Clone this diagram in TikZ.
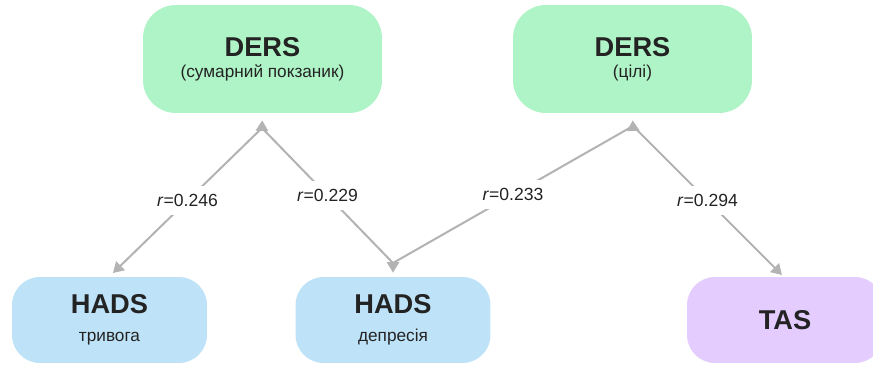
\documentclass[tikz,border=0pt]{standalone}
\usepackage{fontspec}
\setmainfont{Liberation Sans}
\usetikzlibrary{arrows.meta}
\definecolor{dersgreen}{HTML}{AFF4C6}
\definecolor{hadsblue}{HTML}{BEE3F8}
\definecolor{taspurple}{HTML}{E4CCFF}
\definecolor{linkgray}{HTML}{B3B3B3}
\definecolor{inkdark}{HTML}{232323}
\newcommand{\boxtitle}[1]{{\bfseries\fontsize{15.5}{18}\selectfont #1}}
\begin{document}
\begin{tikzpicture}[x=0.02cm,y=-0.02cm,
    box/.style={rounded corners=0.56cm, inner sep=0pt, align=center, text=inkdark,
        font=\fontsize{9.8}{12}\selectfont},
    dersbox/.style={box, fill=dersgreen, minimum width=4.78cm, minimum height=2.16cm,
        rounded corners=0.66cm},
    hadsbox/.style={box, fill=hadsblue, minimum width=3.9cm, minimum height=1.72cm},
    tasbox/.style={box, fill=taspurple, minimum width=3.92cm, minimum height=1.72cm},
    link/.style={draw=linkgray, line width=1.15pt},
    arrowed/.style={-{Triangle[length=6pt,width=7pt]}},
    rlab/.style={fill=white, inner xsep=2pt, inner ysep=4.5pt, text=inkdark,
        font=\fontsize{10}{12}\selectfont}]
    \clip (0,0) rectangle (873,366);
    % boxes
    \node[dersbox] (dersSum) at (262.5,59) {\boxtitle{DERS}\\[0pt](сумарний покзаник)};
    \node[dersbox] (dersGoal) at (632.5,59) {\boxtitle{DERS}\\[0pt](цілі)};
    \node[hadsbox] (hadsAnx) at (109.5,320) {\boxtitle{HADS}\\[4pt]тривога};
    \node[hadsbox] (hadsDep) at (393,320) {\boxtitle{HADS}\\[4pt]депресія};
    \node[tasbox] (tas) at (785,320) {\boxtitle{TAS}};
    % meeting points of the links
    \coordinate (jSum) at (262,128);
    \coordinate (jDep) at (393,263);
    \coordinate (jGoal) at (633,126);
    \coordinate (endAnx) at (113,273);
    \coordinate (endTas) at (782,275);
    % links
    \draw[link,arrowed] (jSum) -- (endAnx) node[midway,rlab] {\textit{r}=0.246};
    \draw[link] (jSum) -- (jDep) node[midway,rlab] {\textit{r}=0.229};
    \draw[link] (jDep) -- (jGoal) node[midway,rlab] {\textit{r}=0.233};
    \draw[link,arrowed] (jGoal) -- (endTas) node[midway,rlab] {\textit{r}=0.294};
    \draw[link,arrowed,shorten >=4pt] (jSum) -- (dersSum.south);
    \draw[link,arrowed,shorten >=2.3pt] (jDep) -- (hadsDep.north);
    \draw[link,arrowed,shorten >=4pt] (jGoal) -- (dersGoal.south);
\end{tikzpicture}
\end{document}
